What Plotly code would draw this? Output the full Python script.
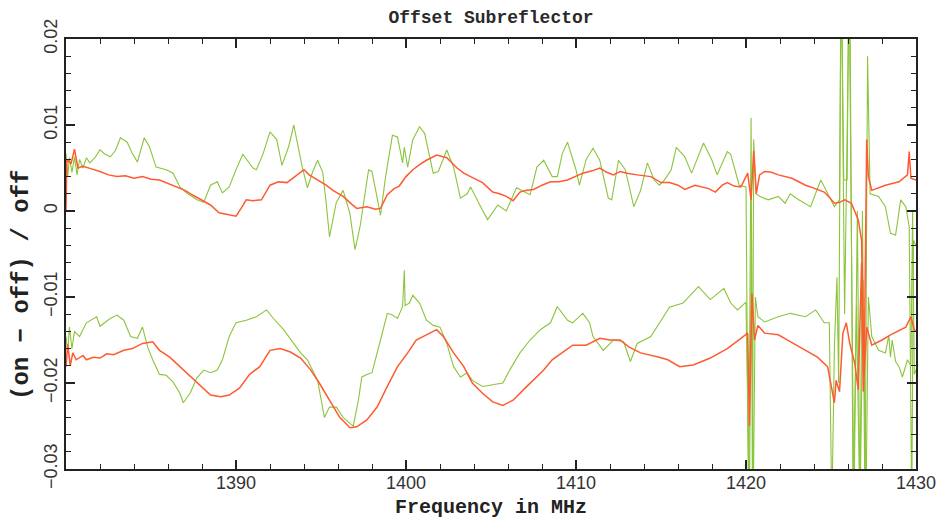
import plotly.graph_objects as go

# ---------------- data ----------------
title_text = "Offset Subreflector"
x_title = "Frequency in MHz"
y_title = "(on \u2212 off) / off"

x_tickvals = [1390, 1400, 1410, 1420, 1430]
x_ticktext = ["1390", "1400", "1410", "1420", "1430"]
y_tickvals = [0.02, 0.01, 0.0, -0.01, -0.02, -0.03]
y_ticktext = ["0.02", "0.01", "0", "\u22120.01", "\u22120.02", "\u22120.03"]

# red, upper trace (frequency MHz, value)
red_upper = [
    (1380.0, 0.0), (1380.05, 0.0060), (1380.3, 0.0055), (1380.5, 0.0072), (1380.7, 0.0050),
    (1381.0, 0.0052), (1381.5, 0.0049), (1382.0, 0.0046), (1382.5, 0.0042), (1383.0, 0.0040),
    (1383.5, 0.0041), (1384.0, 0.0038), (1384.5, 0.0040), (1385.0, 0.0037), (1385.5, 0.0036),
    (1386.0, 0.0032), (1386.5, 0.0028), (1387.0, 0.0024), (1387.5, 0.0018), (1388.0, 0.0012),
    (1388.5, 0.0007), (1389.0, -0.0002), (1389.5, -0.0004), (1390.0, -0.0006), (1390.3, 0.0003),
    (1390.6, 0.0013), (1391.0, 0.0012), (1391.5, 0.0013), (1392.0, 0.0030), (1392.5, 0.0034),
    (1393.0, 0.0033), (1393.5, 0.0040), (1394.0, 0.0048), (1394.3, 0.0042), (1394.8, 0.0036),
    (1395.3, 0.0030), (1395.7, 0.0024), (1396.3, 0.0017), (1396.8, 0.0008), (1397.1, 0.0003),
    (1397.7, 0.0005), (1398.2, 0.0002), (1398.5, 0.0003), (1398.9, 0.0019), (1399.3, 0.0026),
    (1399.6, 0.0029), (1400.0, 0.0040), (1400.4, 0.0048), (1400.8, 0.0054), (1401.2, 0.0059),
    (1401.8, 0.0065), (1402.4, 0.0062), (1403.0, 0.0050), (1403.4, 0.0044), (1403.8, 0.0040),
    (1404.5, 0.0033), (1405.1, 0.0022), (1405.5, 0.0020), (1405.9, 0.0017), (1406.3, 0.0012),
    (1406.7, 0.0022), (1407.1, 0.0024), (1407.5, 0.0025), (1408.0, 0.0030), (1408.5, 0.0034),
    (1409.0, 0.0034), (1409.5, 0.0036), (1410.0, 0.0040), (1410.4, 0.0044), (1411.0, 0.0047),
    (1411.4, 0.0050), (1411.8, 0.0045), (1412.2, 0.0042), (1412.6, 0.0046), (1413.0, 0.0044),
    (1413.6, 0.0042), (1414.4, 0.0040), (1415.0, 0.0033), (1415.5, 0.0033), (1416.0, 0.0030),
    (1416.4, 0.0025), (1417.0, 0.0030), (1417.4, 0.0028), (1417.8, 0.0026), (1418.2, 0.0022),
    (1418.6, 0.0030), (1418.9, 0.0033), (1419.3, 0.0029), (1419.7, 0.0028), (1420.1, 0.0044),
    (1420.3, 0.0013), (1420.45, 0.0070), (1420.6, 0.0020), (1420.8, 0.0042), (1421.1, 0.0046),
    (1421.5, 0.0045), (1421.9, 0.0042), (1422.3, 0.0040), (1422.7, 0.0038), (1423.1, 0.0034),
    (1423.5, 0.0030), (1423.8, 0.0028), (1424.2, 0.0025), (1424.6, 0.0022), (1424.9, 0.0016),
    (1425.2, 0.0009), (1425.5, 0.0010), (1425.8, 0.0013), (1426.2, 0.0009), (1426.6, -0.0010),
    (1426.8, -0.0034), (1426.95, -0.0190), (1427.1, 0.0083), (1427.2, 0.0040), (1427.4, 0.0024),
    (1427.8, 0.0027), (1428.2, 0.0030), (1428.6, 0.0032), (1429.0, 0.0034), (1429.5, 0.0042),
    (1429.6, 0.0069), (1429.7, 0.0038), (1430.0, 0.0036),
]

# green, upper trace
green_upper = [
    (1380.0, 0.0067), (1380.1, 0.0040), (1380.2, 0.0062), (1380.35, 0.0045), (1380.5, 0.0063),
    (1380.65, 0.0042), (1380.8, 0.0060), (1381.0, 0.0050), (1381.2, 0.0062), (1381.4, 0.0056),
    (1381.7, 0.0062), (1382.0, 0.0071), (1382.3, 0.0066), (1382.6, 0.0063), (1382.9, 0.0070),
    (1383.2, 0.0085), (1383.6, 0.0080), (1383.9, 0.0067), (1384.2, 0.0057), (1384.6, 0.0085),
    (1384.9, 0.0075), (1385.3, 0.0051), (1385.9, 0.0048), (1386.3, 0.0044), (1386.7, 0.0028),
    (1387.1, 0.0021), (1387.7, 0.0013), (1388.1, 0.0010), (1388.5, 0.0030), (1388.9, 0.0034),
    (1389.2, 0.0021), (1389.6, 0.0028), (1390.0, 0.0048), (1390.4, 0.0066), (1391.0, 0.0050),
    (1391.2, 0.0048), (1391.6, 0.0067), (1392.0, 0.0092), (1392.4, 0.0083), (1392.7, 0.0053),
    (1393.1, 0.0075), (1393.4, 0.0100), (1393.6, 0.0080), (1393.9, 0.0051), (1394.2, 0.0027),
    (1394.5, 0.0045), (1394.8, 0.0059), (1395.1, 0.0045), (1395.3, 0.0010), (1395.5, -0.0030),
    (1395.9, 0.0010), (1396.3, 0.0024), (1396.7, -0.0003), (1397.0, -0.0045), (1397.3, -0.0018),
    (1397.8, 0.0048), (1398.0, 0.0046), (1398.2, 0.0025), (1398.5, -0.0005), (1398.8, 0.0040),
    (1399.2, 0.0088), (1399.5, 0.0086), (1399.8, 0.0056), (1399.9, 0.0074), (1400.1, 0.0051),
    (1400.4, 0.0083), (1400.8, 0.0098), (1401.1, 0.0090), (1401.6, 0.0044), (1401.9, 0.0046),
    (1402.4, 0.0071), (1402.8, 0.0051), (1403.2, 0.0015), (1403.6, 0.0020), (1403.8, 0.0028),
    (1404.5, 0.0001), (1404.8, -0.0010), (1405.4, 0.0007), (1405.9, 0.0000), (1406.5, 0.0027),
    (1407.3, 0.0019), (1407.7, 0.0051), (1408.1, 0.0059), (1408.6, 0.0040), (1408.9, 0.0040),
    (1409.2, 0.0067), (1409.5, 0.0080), (1410.0, 0.0048), (1410.2, 0.0030), (1410.6, 0.0060),
    (1411.0, 0.0073), (1411.4, 0.0059), (1411.9, 0.0015), (1412.1, 0.0013), (1412.5, 0.0059),
    (1412.9, 0.0048), (1413.4, 0.0005), (1413.8, 0.0024), (1414.2, 0.0056), (1414.6, 0.0036),
    (1414.9, 0.0030), (1415.2, 0.0036), (1415.6, 0.0048), (1415.9, 0.0074), (1416.4, 0.0063),
    (1416.8, 0.0044), (1417.5, 0.0079), (1418.0, 0.0059), (1418.3, 0.0042), (1418.9, 0.0069),
    (1419.1, 0.0066), (1419.6, 0.0030), (1420.0, 0.0028), (1420.15, -0.0350), (1420.3, 0.0108),
    (1420.38, -0.0350), (1420.45, 0.0083), (1420.6, 0.0020), (1420.8, 0.0017), (1421.3, 0.0013),
    (1421.9, 0.0017), (1422.3, 0.0009), (1422.6, 0.0020), (1423.1, 0.0013), (1423.8, 0.0005),
    (1424.4, 0.0036), (1424.8, 0.0021), (1425.2, 0.0005), (1425.5, 0.0013), (1425.6, 0.0300),
    (1425.75, 0.0036), (1425.95, 0.0036), (1426.05, 0.0300), (1426.2, 0.0005), (1426.35, -0.0350),
    (1426.55, 0.0000), (1426.7, -0.0350), (1426.85, 0.0000), (1427.0, -0.0350), (1427.15, 0.0180),
    (1427.3, 0.0020), (1427.8, 0.0017), (1428.2, 0.0005), (1428.5, -0.0026), (1428.8, -0.0028),
    (1429.1, 0.0013), (1429.4, 0.0005), (1429.6, -0.0018), (1429.75, -0.0350), (1429.85, -0.0034),
    (1430.0, -0.0040),
]

# red, lower trace
red_lower = [
    (1380.0, -0.0181), (1380.1, -0.0155), (1380.25, -0.0180), (1380.4, -0.0165), (1380.6, -0.0173),
    (1381.0, -0.0168), (1381.2, -0.0173), (1381.6, -0.0170), (1382.0, -0.0171), (1382.4, -0.0166),
    (1382.8, -0.0167), (1383.4, -0.0162), (1383.9, -0.0160), (1384.5, -0.0154), (1385.1, -0.0152),
    (1385.5, -0.0162), (1386.1, -0.0170), (1386.7, -0.0181), (1387.3, -0.0193), (1387.9, -0.0204),
    (1388.5, -0.0214), (1389.1, -0.0216), (1389.6, -0.0214), (1390.2, -0.0206), (1390.8, -0.0190),
    (1391.4, -0.0181), (1392.0, -0.0162), (1392.6, -0.0160), (1393.2, -0.0164), (1393.8, -0.0171),
    (1394.4, -0.0185), (1394.9, -0.0200), (1395.5, -0.0220), (1396.1, -0.0240), (1396.7, -0.0252),
    (1397.1, -0.0251), (1397.7, -0.0243), (1398.3, -0.0228), (1398.9, -0.0204), (1399.5, -0.0181),
    (1400.1, -0.0165), (1400.6, -0.0150), (1401.2, -0.0144), (1401.8, -0.0138), (1402.2, -0.0146),
    (1402.8, -0.0165), (1403.4, -0.0181), (1403.9, -0.0200), (1404.5, -0.0212), (1405.1, -0.0222),
    (1405.7, -0.0226), (1406.3, -0.0220), (1406.9, -0.0208), (1407.5, -0.0197), (1408.1, -0.0185),
    (1408.6, -0.0173), (1409.2, -0.0164), (1409.8, -0.0156), (1410.6, -0.0156), (1411.4, -0.0148),
    (1412.0, -0.0150), (1412.6, -0.0150), (1413.1, -0.0158), (1413.8, -0.0165), (1414.9, -0.0170),
    (1415.4, -0.0173), (1416.1, -0.0181), (1416.9, -0.0179), (1417.9, -0.0171), (1418.9, -0.0160),
    (1419.7, -0.0148), (1420.1, -0.0142), (1420.2, -0.0250), (1420.35, -0.0096), (1420.5, -0.0150),
    (1420.7, -0.0133), (1421.1, -0.0142), (1421.9, -0.0144), (1422.6, -0.0152), (1423.5, -0.0162),
    (1424.2, -0.0170), (1424.8, -0.0181), (1425.1, -0.0212), (1425.2, -0.0223), (1425.3, -0.0197),
    (1425.5, -0.0210), (1425.7, -0.0142), (1425.9, -0.0130), (1426.1, -0.0154), (1426.4, -0.0177),
    (1426.6, -0.0208), (1426.8, -0.0060), (1426.9, -0.0210), (1427.1, -0.0135), (1427.4, -0.0156),
    (1428.0, -0.0150), (1428.5, -0.0144), (1429.4, -0.0135), (1429.7, -0.0123), (1429.9, -0.0138),
    (1430.0, -0.0140),
]

# green, lower trace
green_lower = [
    (1380.0, -0.0146), (1380.1, -0.0165), (1380.2, -0.0135), (1380.35, -0.0160), (1380.5, -0.0140),
    (1380.8, -0.0146), (1381.2, -0.0130), (1381.6, -0.0125), (1381.8, -0.0123), (1382.0, -0.0134),
    (1382.6, -0.0125), (1383.0, -0.0121), (1383.4, -0.0127), (1383.8, -0.0146), (1384.2, -0.0148),
    (1384.5, -0.0135), (1384.8, -0.0158), (1385.1, -0.0173), (1385.5, -0.0190), (1385.9, -0.0191),
    (1386.3, -0.0199), (1386.7, -0.0212), (1386.9, -0.0223), (1387.3, -0.0212), (1387.7, -0.0194),
    (1388.1, -0.0185), (1388.5, -0.0188), (1388.9, -0.0185), (1389.2, -0.0173), (1389.6, -0.0146),
    (1390.0, -0.0130), (1390.6, -0.0127), (1391.2, -0.0123), (1391.8, -0.0115), (1392.2, -0.0125),
    (1392.8, -0.0138), (1393.4, -0.0154), (1393.8, -0.0165), (1394.2, -0.0173), (1394.8, -0.0197),
    (1395.2, -0.0240), (1395.5, -0.0228), (1395.9, -0.0228), (1396.3, -0.0240), (1396.7, -0.0247),
    (1396.9, -0.0250), (1397.2, -0.0220), (1397.4, -0.0193), (1397.7, -0.0190), (1398.0, -0.0188),
    (1398.5, -0.0150), (1398.9, -0.0119), (1399.2, -0.0121), (1399.5, -0.0125), (1399.8, -0.0111),
    (1399.9, -0.0069), (1399.95, -0.0110), (1400.2, -0.0107), (1400.4, -0.0098), (1400.8, -0.0107),
    (1401.2, -0.0127), (1401.6, -0.0133), (1402.0, -0.0135), (1402.4, -0.0154), (1402.8, -0.0181),
    (1403.2, -0.0193), (1403.6, -0.0188), (1403.9, -0.0197), (1404.5, -0.0204), (1405.1, -0.0202),
    (1405.7, -0.0200), (1406.1, -0.0185), (1406.7, -0.0165), (1407.3, -0.0150), (1407.9, -0.0138),
    (1408.5, -0.0130), (1408.9, -0.0111), (1409.5, -0.0127), (1409.8, -0.0130), (1410.4, -0.0119),
    (1410.8, -0.0130), (1411.0, -0.0146), (1411.6, -0.0162), (1412.2, -0.0150), (1412.8, -0.0152),
    (1413.2, -0.0175), (1413.6, -0.0154), (1414.4, -0.0146), (1414.9, -0.0130), (1415.5, -0.0112),
    (1416.3, -0.0107), (1416.8, -0.0096), (1417.2, -0.0088), (1417.9, -0.0103), (1418.7, -0.0090),
    (1419.1, -0.0107), (1419.5, -0.0115), (1420.0, -0.0106), (1420.2, -0.0350), (1420.32, 0.0000),
    (1420.42, -0.0350), (1420.55, -0.0100), (1420.7, -0.0123), (1421.1, -0.0129), (1421.9, -0.0123),
    (1422.6, -0.0119), (1423.5, -0.0123), (1424.1, -0.0115), (1424.6, -0.0130), (1424.9, -0.0130),
    (1425.05, -0.0350), (1425.2, -0.0158), (1425.35, -0.0077), (1425.45, -0.0200), (1425.6, 0.0300),
    (1425.8, -0.0120), (1426.1, 0.0300), (1426.3, -0.0350), (1426.5, -0.0110), (1426.7, -0.0350),
    (1426.9, -0.0080), (1427.05, -0.0350), (1427.2, -0.0100), (1427.4, -0.0146), (1427.8, -0.0162),
    (1428.2, -0.0165), (1428.4, -0.0145), (1428.5, -0.0170), (1428.6, -0.0150), (1428.8, -0.0175),
    (1429.0, -0.0181), (1429.2, -0.0193), (1429.5, -0.0173), (1429.7, -0.0180), (1429.8, 0.0000),
    (1429.9, -0.0190), (1430.0, -0.0185),
]

RED = "#ff5a30"
GREEN = "#8cc43c"

fig = go.Figure()
for series, color, width in [
    (green_upper, GREEN, 1.1),
    (green_lower, GREEN, 1.1),
    (red_upper, RED, 1.5),
    (red_lower, RED, 1.5),
]:
    xs = [p[0] for p in series]
    ys = [p[1] for p in series]
    fig.add_trace(go.Scatter(x=xs, y=ys, mode="lines",
                             line=dict(color=color, width=width),
                             showlegend=False, hoverinfo="skip"))

tick_font = dict(family="Liberation Sans, Arial, sans-serif", size=18, color="#333333")
mono = "Liberation Mono, Courier New, monospace"

fig.update_xaxes(
    range=[1380, 1430], tickvals=x_tickvals, ticktext=x_ticktext,
    ticks="inside", ticklen=9, tickwidth=1.5, tickcolor="#222222",
    minor=dict(ticks="inside", ticklen=5, tickwidth=1.2, dtick=2, tickcolor="#222222"),
    showline=True, linewidth=2, linecolor="#222222", mirror="allticks",
    showgrid=False, zeroline=False, tickfont=tick_font, automargin=False,
    ticklabelstandoff=-4,
)
fig.update_yaxes(
    range=[-0.03, 0.02], tickvals=y_tickvals, ticktext=y_ticktext, tickangle=-90,
    ticks="inside", ticklen=9, tickwidth=1.5, tickcolor="#222222",
    minor=dict(ticks="inside", ticklen=5, tickwidth=1.2, dtick=0.002, tickcolor="#222222"),
    showline=True, linewidth=2, linecolor="#222222", mirror="allticks",
    showgrid=False, zeroline=False, tickfont=tick_font, automargin=False,
)

fig.update_layout(
    width=938, height=519,
    margin=dict(l=66, r=22, t=39, b=50, autoexpand=False),
    paper_bgcolor="white", plot_bgcolor="white",
    title=dict(text="<b>" + title_text + "</b>", x=0.5, xref="paper", y=1 - 17 / 519, yref="container",
               xanchor="center", yanchor="middle",
               font=dict(family=mono, size=18, color="#2a2a2a")),
    annotations=[
        dict(text="<b>" + x_title + "</b>", xref="paper", yref="paper",
             x=0.5, y=(469 - 507) / 430, xanchor="center", yanchor="middle", showarrow=False,
             font=dict(family=mono, size=20, color="#222222")),
        dict(text="<b>" + y_title + "</b>", xref="paper", yref="paper", textangle=-90,
             x=(21 - 66) / 850, y=(469 - 285) / 430, xanchor="center", yanchor="middle", showarrow=False,
             font=dict(family=mono, size=24, color="#222222")),
    ],
)

fig.write_html("out.html")
